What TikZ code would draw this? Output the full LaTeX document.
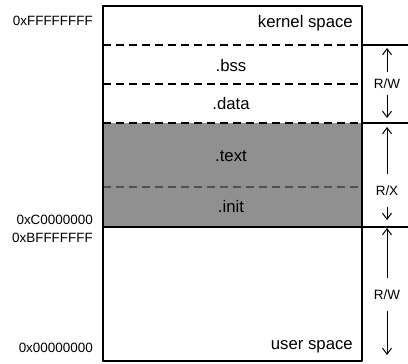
\documentclass[tikz,border=0pt]{standalone}
\usepackage{fontspec}
\setmainfont{Liberation Sans}
\usetikzlibrary{arrows.meta}
\definecolor{segfill}{RGB}{144,144,144}
\definecolor{segdash}{RGB}{80,80,80}
\begin{document}
\begin{tikzpicture}[>={Straight Barb[length=6bp,width=9bp]},line join=bevel,
  seglabel/.style={inner sep=0pt,font=\fontsize{16.8}{20}\selectfont},
  addrlabel/.style={inner sep=0pt,anchor=base east,font=\fontsize{13.5}{16}\selectfont},
  permlabel/.style={inner sep=0pt,font=\fontsize{13.5}{16}\selectfont},
  boundary/.style={line width=1.2bp},
  dashline/.style={line width=1.1bp,dash pattern=on 8bp off 5bp},
  permarrow/.style={line width=1bp,->}]
%%
\useasboundingbox (0bp,0bp) rectangle (408bp,364bp);
\fill [segfill] (103bp,137bp) rectangle (362bp,241bp);
\draw [dashline] (103bp,319bp) -- (362bp,319bp);
\draw [dashline] (103bp,280bp) -- (362bp,280bp);
\draw [dashline] (103bp,241bp) -- (362bp,241bp);
\draw [dashline,segdash] (103bp,177bp) -- (362bp,177bp);
\draw [boundary] (103bp,137bp) -- (408bp,137bp);
\draw [boundary] (362bp,319bp) -- (408bp,319bp);
\draw [boundary] (362bp,241bp) -- (408bp,241bp);
\draw [boundary] (103bp,3bp) rectangle (362bp,358bp);
%
\node (node_kernel) at (353bp,336bp) [seglabel,anchor=base east] {kernel space};
  \node (node_bss) at (231bp,292bp) [seglabel,anchor=base] {.bss};
  \node (node_data) at (231bp,254bp) [seglabel,anchor=base] {.data};
  \node (node_text) at (231bp,202bp) [seglabel,anchor=base] {.text};
  \node (node_init) at (231bp,151bp) [seglabel,anchor=base] {.init};
  \node (node_user) at (353bp,15bp) [seglabel,anchor=base east] {user space};
%
\node (addr_top) at (93bp,338bp) [addrlabel] {0xFFFFFFFF};
  \node (addr_kbase) at (93bp,139bp) [addrlabel] {0xC0000000};
  \node (addr_ulimit) at (93bp,121bp) [addrlabel] {0xBFFFFFFF};
  \node (addr_zero) at (93bp,12bp) [addrlabel] {0x00000000};
%
\node (perm_rw_k) at (387bp,280.5bp) [permlabel,minimum height=23bp] {R/W};
  \node (perm_rx_k) at (387bp,173.5bp) [permlabel,minimum height=33bp] {R/X};
  \node (perm_rw_u) at (387bp,69.5bp) [permlabel,minimum height=33bp] {R/W};
  \coordinate (tip_rw_k_up) at (387bp,316bp);
  \coordinate (tip_rw_k_down) at (387bp,246bp);
  \coordinate (tip_rx_k_up) at (387bp,237bp);
  \coordinate (tip_rx_k_down) at (387bp,144bp);
  \coordinate (tip_rw_u_up) at (387bp,136bp);
  \coordinate (tip_rw_u_down) at (387bp,9bp);
  \draw [permarrow] (perm_rw_k.north) -- (tip_rw_k_up);
  \draw [permarrow] (perm_rw_k.south) -- (tip_rw_k_down);
  \draw [permarrow] (perm_rx_k.north) -- (tip_rx_k_up);
  \draw [permarrow] (perm_rx_k.south) -- (tip_rx_k_down);
  \draw [permarrow] (perm_rw_u.north) -- (tip_rw_u_up);
  \draw [permarrow] (perm_rw_u.south) -- (tip_rw_u_down);
%
\end{tikzpicture}
\end{document}
